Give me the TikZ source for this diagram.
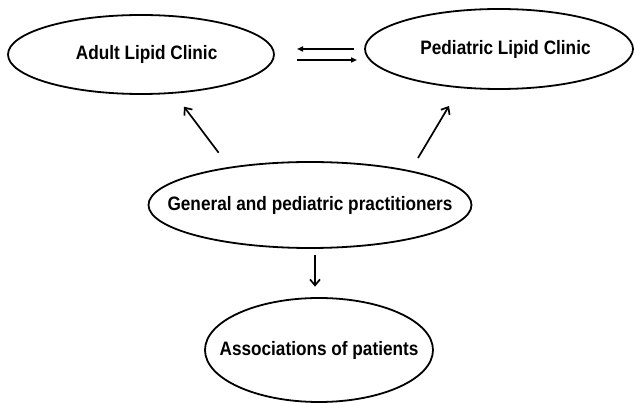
\documentclass[tikz,border=0pt]{standalone}
\usepackage{fontspec}
\setmainfont{Liberation Sans}
\usetikzlibrary{shapes.geometric,arrows.meta}
\newcommand{\lbl}[1]{\makebox[0pt]{\scalebox{0.93}[1.05]{#1}}}
\begin{document}
\begin{tikzpicture}[x=1pt,y=-1pt,
  oval/.style={draw,line width=1.8pt,ellipse,inner sep=0pt,font=\fontsize{18.5}{20}\selectfont\bfseries},
  conn/.style={line width=1.7pt,-{Straight Barb[length=6pt,width=10pt]}},
  hconn/.style={line width=1.7pt,-{Triangle[length=6pt,width=5pt]}}]
\useasboundingbox (0,0) rectangle (635,403);
\node[oval,minimum width=266,minimum height=79] (adult) at (141,54.5) {\raisebox{5pt}{\lbl{\hspace*{12pt}Adult Lipid Clinic}}};
\node[oval,minimum width=268,minimum height=80] (ped) at (499,49) {\raisebox{4pt}{\lbl{\hspace*{14pt}Pediatric Lipid Clinic}}};
\node[oval,minimum width=323,minimum height=86] (gen) at (310,205) {\lbl{General and pediatric practitioners}};
\node[oval,minimum width=228,minimum height=104] (assoc) at (319,350) {\lbl{Associations of patients}};
\coordinate (h1s) at (354,49); \coordinate (h1e) at (297,49);
\coordinate (h2s) at (297,60); \coordinate (h2e) at (357,60);
\coordinate (d1s) at (218.6,152.7); \coordinate (d1e) at (184,106.7);
\coordinate (d2s) at (418,158); \coordinate (d2e) at (449,106);
\coordinate (vs) at (315,255); \coordinate (ve) at (315,286.7);
\draw[hconn] (h1s) -- (h1e);
\draw[hconn] (h2s) -- (h2e);
\draw[conn] (d1s) -- (d1e);
\draw[conn] (d2s) -- (d2e);
\draw[conn] (vs) -- (ve);
\end{tikzpicture}
\end{document}
